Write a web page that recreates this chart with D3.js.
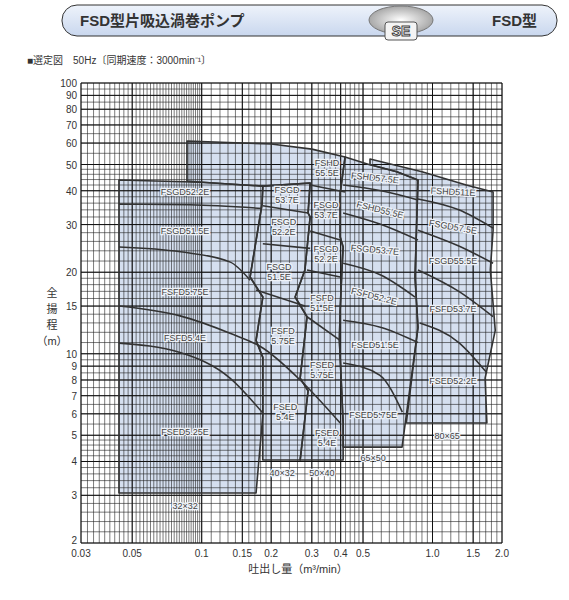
<!DOCTYPE html>
<html>
<head>
<meta charset="utf-8">
<script src="https://cdn.jsdelivr.net/npm/d3@7"></script>
<style>
  body { margin: 0; background: #fff; }
  text { font-family: "Liberation Sans", Arial, "Noto Sans CJK JP", sans-serif; }
</style>
</head>
<body>
<svg id="chart" width="569" height="600"></svg>
<script>
// tick labels
var xTicks = [0.03, 0.05, 0.1, 0.15, 0.2, 0.3, 0.4, 0.5, 1.0, 1.5, 2.0];
var xTickText = ["0.03", "0.05", "0.1", "0.15", "0.2", "0.3", "0.4", "0.5", "1.0", "1.5", "2.0"];
var yTicks = [2, 3, 4, 5, 6, 7, 8, 9, 10, 15, 20, 30, 40, 50, 60, 70, 80, 90, 100];

// pump size ranges, [Q m3/min, H m]
var g32 = [[0.0438,43.8],[0.1,43.0],[0.184,41.6],[0.1826,35.7],[0.162,19.2],[0.184,16.2],
  [0.172,11.2],[0.184,9.7],[0.184,5.93],[0.172,3.06],[0.0438,3.06]];
var g40 = [[0.184,41.6],[0.295,42.7],[0.289,33.1],[0.295,32],[0.28,20.4],[0.254,16.2],
  [0.286,13.7],[0.267,8.13],[0.289,7.3],[0.267,4.05],[0.184,4.05],[0.184,5.93],[0.184,9.7],
  [0.172,11.2],[0.184,16.2],[0.162,19.2],[0.1826,35.7]];
var g50 = [[0.0864,61.1],[0.2,59.5],[0.3,57],[0.418,53.3],[0.398,39.2],[0.398,27],[0.41,24.8],
  [0.405,20.4],[0.398,14.5],[0.395,11.2],[0.41,5.55],[0.41,4.05],[0.267,4.05],[0.289,7.3],
  [0.267,8.13],[0.286,13.7],[0.254,16.2],[0.28,20.4],[0.295,32],[0.289,33.1],[0.295,42.7],
  [0.184,41.6],[0.1,43.0],[0.0864,43.4]];
var g65 = [[0.418,53.3],[0.53,50],[0.7,47],[0.865,43.8],[0.84,19.2],[0.865,12.5],[0.738,4.52],
  [0.41,4.52],[0.41,5.55],[0.395,11.2],[0.398,14.5],[0.405,20.4],[0.41,24.8],[0.398,27],[0.398,39.2]];
var g80 = [[0.536,52.4],[0.9,47],[1.4,42],[1.83,39.6],[1.83,28.6],[1.78,20.4],[1.87,12.2],
  [1.69,8.13],[1.72,5.55],[0.77,5.55],[0.865,12.5],[0.84,19.2],[0.865,43.8],[0.7,47],[0.536,50]];
var groups = [g32, g40, g50, g65, g80];

// model boundaries inside the ranges
var curves = [
  [[0.0438,35.7],[0.089,35.5],[0.1826,34.4]],
  [[0.0438,24.8],[0.081,23.8],[0.133,21.8],[0.162,18.7]],
  [[0.0438,15.0],[0.0806,13.8],[0.1326,11.9],[0.184,10.5],[0.267,8.0],[0.398,5.55]],
  [[0.0438,10.95],[0.0806,10.1],[0.1326,8.13],[0.184,6.04]],
  [[0.184,35.2],[0.289,33.1]],
  [[0.184,25.5],[0.295,24.5]],
  [[0.172,17.2],[0.28,15.0]],
  [[0.295,42],[0.418,39.6]],
  [[0.295,28.4],[0.398,26.3]],
  [[0.286,20.4],[0.398,19.2]],
  [[0.286,13.7],[0.398,11.2]],
  [[0.41,42],[0.6,40],[0.865,37.0]],
  [[0.41,33.1],[0.6,30],[0.865,26.3]],
  [[0.41,21.6],[0.6,19.5],[0.84,16.2]],
  [[0.41,13.3],[0.6,12.5],[0.865,11.0]],
  [[0.41,9.24],[0.59,8.34],[0.74,6.09]],
  [[0.865,37.3],[1.3,34],[1.83,29.1]],
  [[0.865,28.6],[1.3,25],[1.83,21.6]],
  [[0.865,20.4],[1.3,17],[1.83,13.7]],
  [[0.88,13.0],[1.3,11],[1.72,8.5]]
];

// labels: text, Q, H, angle
var labels = [
  ["FSGD52.2E",0.0847,39.6,0],["FSGD51.5E",0.0847,28.4,0],["FSFD5.75E",0.0847,16.9,0],
  ["FSFD5.4E",0.0847,11.43,0],["FSED5.25E",0.0847,5.14,0],["32×32",0.0847,2.74,0],
  ["FSGD|53.7E",0.234,38.6,0],["FSGD|52.2E",0.227,29.4,0],["FSGD|51.5E",0.216,20.0,0],
  ["FSFD|5.75E",0.225,11.62,0],["FSED|5.4E",0.230,6.09,0],["40×32",0.223,3.62,0],
  ["FSHD|55.5E",0.349,48.5,0],["FSGD|53.7E",0.346,34.0,0],["FSGD|52.2E",0.346,23.4,0],
  ["FSFD|51.5E",0.332,15.4,0],["FSED|5.75E",0.332,8.7,0],["FSED|5.4E",0.349,4.88,0],
  ["50×40",0.332,3.62,0],
  ["FSHD57.5E",0.563,44.6,6],["FSHD55.5E",0.593,34.0,14],["FSGD53.7E",0.563,24.2,5],
  ["FSFD52.2E",0.558,16.3,14],["FSED51.5E",0.563,10.77,0],["FSED5.75E",0.553,5.93,0],
  ["65×50",0.553,4.12,0],
  ["FSHD511E",1.227,39.6,3],["FSGD57.5E",1.227,29.4,10],["FSGD55.5E",1.227,22.0,0],
  ["FSFD53.7E",1.227,14.6,0],["FSED52.2E",1.227,7.93,0],["80×65",1.156,4.97,0]
];

var svg = d3.select("#chart");
var x = d3.scaleLog().domain([0.03, 2.0]).range([81, 502]);
var y = d3.scaleLog().domain([2, 100]).range([543, 83]);

// header
var defs = svg.append("defs");
var grad = defs.append("linearGradient").attr("id", "hg")
  .attr("x1", 0).attr("y1", 0).attr("x2", 0).attr("y2", 1);
grad.append("stop").attr("offset", "0%").attr("stop-color", "#eef3fb");
grad.append("stop").attr("offset", "100%").attr("stop-color", "#c9d7ee");
var lgrad = defs.append("radialGradient").attr("id", "lg");
lgrad.append("stop").attr("offset", "0%").attr("stop-color", "#ffffff");
lgrad.append("stop").attr("offset", "100%").attr("stop-color", "#a8a8a8");
svg.append("rect").attr("x", 62).attr("y", 5).attr("width", 495).attr("height", 31)
  .attr("rx", 15).attr("fill", "url(#hg)").attr("stroke", "#333").attr("stroke-width", 1);
svg.append("text").attr("x", 80).attr("y", 26).attr("font-size", 15).attr("font-weight", "bold")
  .attr("fill", "#333").text("FSD型片吸込渦巻ポンプ");
svg.append("text").attr("x", 492).attr("y", 26).attr("font-size", 15).attr("font-weight", "bold")
  .attr("fill", "#333").text("FSD型");
svg.append("ellipse").attr("cx", 401).attr("cy", 20).attr("rx", 32).attr("ry", 14)
  .attr("fill", "url(#lg)").attr("stroke", "#777");
svg.append("rect").attr("x", 385).attr("y", 22).attr("width", 32).attr("height", 18).attr("rx", 3)
  .attr("fill", "#f4f4f4").attr("stroke", "#555");
svg.append("text").attr("x", 401).attr("y", 36).attr("text-anchor", "middle").attr("font-size", 14)
  .attr("font-weight", "bold").attr("fill", "#fff").attr("stroke", "#444").attr("stroke-width", 1)
  .text("SE");
svg.append("text").attr("x", 27).attr("y", 64).attr("font-size", 10).attr("fill", "#333")
  .text("■選定図　50Hz〔同期速度：3000min⁻¹〕");

// fills
var line = d3.line().x(function(d) { return x(d[0]); }).y(function(d) { return y(d[1]); });
svg.append("g").selectAll("path").data(groups).enter().append("path")
  .attr("d", function(d) { return line(d) + "Z"; })
  .attr("fill", "#d5dfef");

// grid
var xg = d3.range(0.03, 0.1, 0.002).concat(d3.range(0.1, 0.2, 0.01), d3.range(0.2, 0.5, 0.02),
  d3.range(0.5, 1.0, 0.05), d3.range(1.0, 2.001, 0.1));
var yg = d3.range(2, 5, 0.2).concat(d3.range(5, 10, 0.5), d3.range(10, 20, 1), d3.range(20, 50, 2),
  d3.range(50, 100.1, 5));
var grid = svg.append("g");
grid.selectAll(".gx").data(xg).enter().append("line")
  .attr("x1", function(d) { return x(d); }).attr("x2", function(d) { return x(d); })
  .attr("y1", 83).attr("y2", 543).attr("stroke", "#222").attr("stroke-width", 0.6);
grid.selectAll(".gy").data(yg).enter().append("line")
  .attr("y1", function(d) { return y(d); }).attr("y2", function(d) { return y(d); })
  .attr("x1", 81).attr("x2", 502).attr("stroke", "#222").attr("stroke-width", 0.6);
grid.selectAll(".mx").data(xTicks).enter().append("line")
  .attr("x1", function(d) { return x(d); }).attr("x2", function(d) { return x(d); })
  .attr("y1", 83).attr("y2", 543).attr("stroke", "#111").attr("stroke-width", 1.0);
grid.selectAll(".my").data(yTicks).enter().append("line")
  .attr("y1", function(d) { return y(d); }).attr("y2", function(d) { return y(d); })
  .attr("x1", 81).attr("x2", 502).attr("stroke", "#111").attr("stroke-width", 1.0);

// outlines
svg.append("g").selectAll("path").data(groups).enter().append("path")
  .attr("d", function(d) { return line(d) + "Z"; })
  .attr("fill", "none").attr("stroke", "#333").attr("stroke-width", 1.6).attr("stroke-linejoin", "round");
var curve = d3.line().x(function(d) { return x(d[0]); }).y(function(d) { return y(d[1]); })
  .curve(d3.curveMonotoneX);
svg.append("g").selectAll("path").data(curves).enter().append("path")
  .attr("d", curve).attr("fill", "none").attr("stroke", "#333").attr("stroke-width", 1.6);

// labels
var lg = svg.append("g").selectAll("text").data(labels).enter().append("text")
  .attr("transform", function(d) { return "translate(" + x(d[1]) + "," + y(d[2]) + ") rotate(" + d[3] + ")"; })
  .attr("text-anchor", "middle").attr("font-size", 9).attr("fill", "#444")
  .attr("stroke", "#eef2f8").attr("stroke-width", 2.5).attr("paint-order", "stroke");
lg.each(function(d) {
  var parts = d[0].split("|");
  var t = d3.select(this);
  parts.forEach(function(p, i) {
    t.append("tspan").attr("x", 0).attr("dy", i === 0 ? (parts.length > 1 ? -2 : 3) : 10).text(p);
  });
});

// axis labels
svg.append("g").selectAll("text").data(yTicks).enter().append("text")
  .attr("x", 77).attr("y", function(d) { return y(d) + (d === 2 ? 1 : 4); }).attr("text-anchor", "end")
  .attr("font-size", 10).attr("fill", "#333").text(function(d) { return d; });
svg.append("g").selectAll("text").data(xTicks).enter().append("text")
  .attr("x", function(d) { return x(d); }).attr("y", 557).attr("text-anchor", "middle")
  .attr("font-size", 10).attr("fill", "#333").text(function(d, i) { return xTickText[i]; });
svg.append("text").attr("x", 298).attr("y", 573).attr("text-anchor", "middle").attr("font-size", 11)
  .attr("fill", "#333").text("吐出し量（m³/min）");
["全", "揚", "程", "（m）"].forEach(function(c, i) {
  svg.append("text").attr("x", 52).attr("y", 297 + i * 16).attr("text-anchor", "middle")
    .attr("font-size", 11).attr("fill", "#333").text(c);
});
</script>
</body>
</html>
